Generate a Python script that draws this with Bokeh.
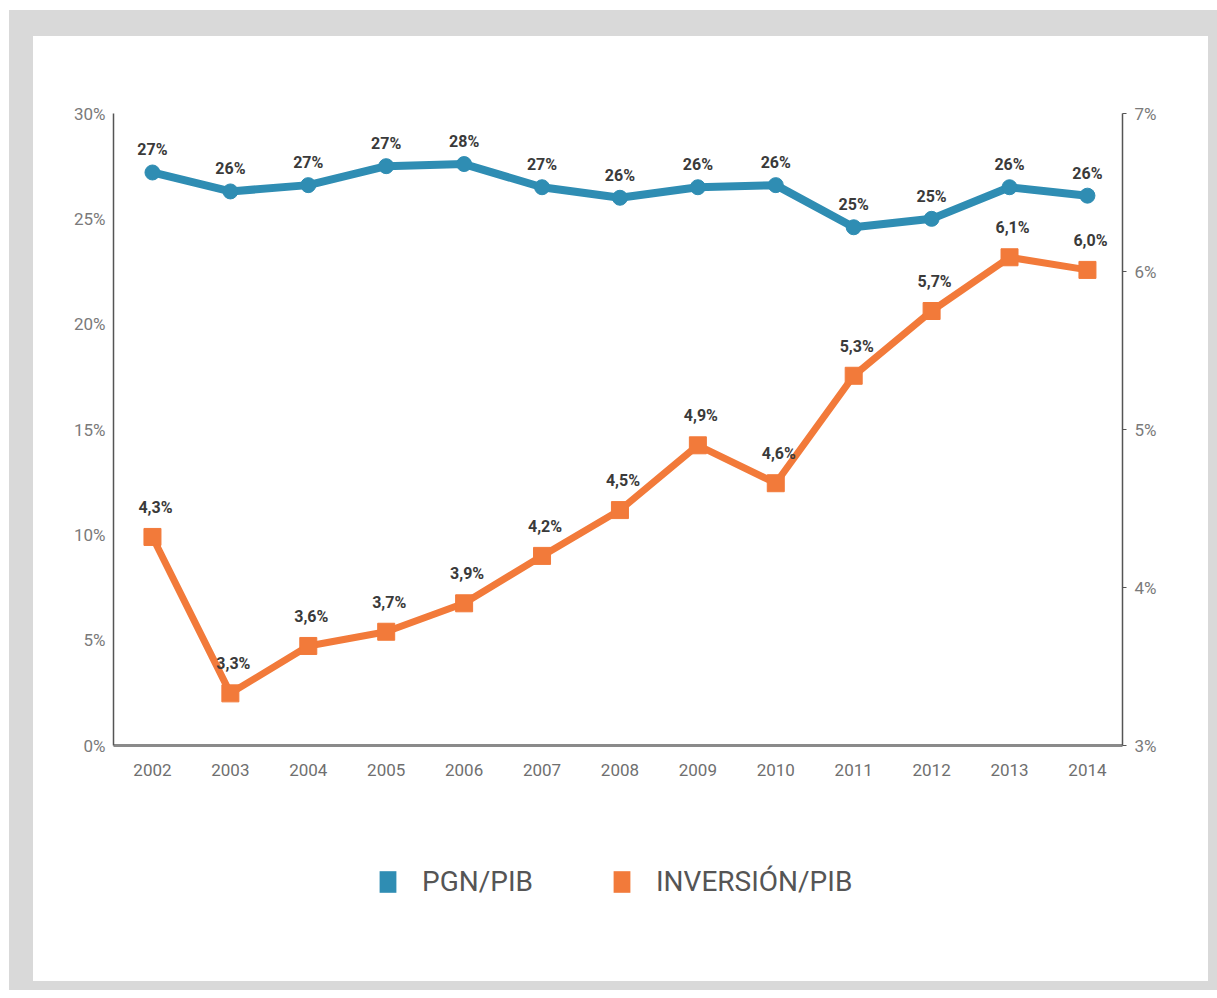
from bokeh.plotting import figure
from bokeh.models import (Range1d, LinearAxis, FixedTicker, CustomJSTickFormatter,
                          ColumnDataSource, Legend, LegendItem)
from bokeh.layouts import column
from bokeh.core.properties import value
from bokeh.embed import file_html
from bokeh.resources import INLINE

years = [2002, 2003, 2004, 2005, 2006, 2007, 2008, 2009, 2010, 2011, 2012, 2013, 2014]
pgn_pib = [27.2, 26.3, 26.6, 27.5, 27.6, 26.5, 26.0, 26.5, 26.6, 24.6, 25.0, 26.5, 26.1]
pgn_labels = ["27%", "26%", "27%", "27%", "28%", "27%", "26%", "26%", "26%", "25%", "25%", "26%", "26%"]
inv_pib = [4.32, 3.33, 3.63, 3.72, 3.9, 4.2, 4.49, 4.9, 4.66, 5.34, 5.75, 6.09, 6.01]
inv_labels = ["4,3%", "3,3%", "3,6%", "3,7%", "3,9%", "4,2%", "4,5%", "4,9%", "4,6%", "5,3%", "5,7%", "6,1%", "6,0%"]
left_ticks = [0, 5, 10, 15, 20, 25, 30]
right_ticks = [3, 4, 5, 6, 7]
series_names = ["PGN/PIB", "INVERSIÓN/PIB"]

BLUE = "#2f8db3"
ORANGE = "#f27a3a"
LABEL_FONT = "Roboto"

p = figure(width=1175, height=794, output_backend="svg", toolbar_location=None,
           x_range=Range1d(2001.5, 2014.45), y_range=Range1d(0, 30),
           min_border_left=80, min_border_right=86, min_border_top=77, min_border_bottom=85,
           background_fill_color="white", border_fill_color="white")
p.outline_line_color = None
p.xgrid.visible = False
p.ygrid.visible = False
p.extra_y_ranges = {"right": Range1d(3, 7)}

# axes styling
xa = p.xaxis[0]
xa.ticker = FixedTicker(ticks=years)
xa.axis_line_color = "#8a8a8a"
xa.axis_line_width = 3
xa.major_tick_line_color = None
xa.minor_tick_line_color = None
xa.major_label_text_font = LABEL_FONT
xa.major_label_text_font_size = "17px"
xa.major_label_text_color = "#6f6f6f"
xa.major_label_standoff = 12

ya = p.yaxis[0]
ya.ticker = FixedTicker(ticks=left_ticks)
ya.formatter = CustomJSTickFormatter(code="return tick + '%';")
ya.axis_line_color = "#555555"
ya.axis_line_width = 1.5
ya.major_tick_line_color = None
ya.minor_tick_line_color = None
ya.major_label_text_font = LABEL_FONT
ya.major_label_text_font_size = "17px"
ya.major_label_text_color = "#7a7a7a"
ya.major_label_standoff = 2

ra = LinearAxis(y_range_name="right", ticker=FixedTicker(ticks=right_ticks),
                formatter=CustomJSTickFormatter(code="return tick + '%';"))
ra.axis_line_color = "#555555"
ra.axis_line_width = 1.5
ra.major_tick_line_color = "#555555"
ra.major_tick_out = 4
ra.major_tick_in = 0
ra.minor_tick_line_color = None
ra.major_label_text_font = LABEL_FONT
ra.major_label_text_font_size = "17px"
ra.major_label_text_color = "#7a7a7a"
ra.major_label_standoff = 8
p.add_layout(ra, "right")

src_pgn = ColumnDataSource(dict(x=years, y=pgn_pib, t=pgn_labels))
src_inv = ColumnDataSource(dict(x=years, y=inv_pib, t=inv_labels))

p.line("x", "y", source=src_pgn, line_color=BLUE, line_width=8, line_join="round")
p.scatter("x", "y", source=src_pgn, marker="circle", size=15, fill_color=BLUE, line_color=BLUE)
p.text("x", "y", text="t", source=src_pgn, text_align="center", text_baseline="bottom",
       y_offset=-13, text_font=value(LABEL_FONT), text_font_style="bold",
       text_font_size="16px", text_color="#3a3a3a")

p.line("x", "y", source=src_inv, y_range_name="right", line_color=ORANGE, line_width=7)
p.scatter("x", "y", source=src_inv, y_range_name="right", marker="square", size=17,
          fill_color=ORANGE, line_color=ORANGE)
p.text("x", "y", text="t", source=src_inv, y_range_name="right", text_align="center",
       text_baseline="bottom", y_offset=-20, x_offset=3, text_font=value(LABEL_FONT),
       text_font_style="bold", text_font_size="16px", text_color="#3a3a3a")

# legend figure (below the chart)
lf = figure(width=1175, height=151, output_backend="svg", toolbar_location=None,
            x_range=Range1d(0, 1), y_range=Range1d(0, 1),
            min_border=0, background_fill_color="white", border_fill_color="white")
lf.axis.visible = False
lf.grid.visible = False
lf.outline_line_color = None
# proxy glyphs placed outside the visible range; only their legend swatches show
r1 = lf.rect(x=[-5], y=[-5], width=0.1, height=0.1, fill_color=BLUE, line_color=None)
r2 = lf.rect(x=[-5], y=[-5], width=0.1, height=0.1, fill_color=ORANGE, line_color=None)
legend = Legend(items=[LegendItem(label=series_names[0], renderers=[r1]),
                       LegendItem(label=series_names[1], renderers=[r2])],
                orientation="horizontal", location=(264, 83),
                glyph_width=21, glyph_height=27, label_standoff=24, spacing=78,
                label_text_font=LABEL_FONT, label_text_font_size="28px",
                label_text_color="#555555", border_line_color=None,
                background_fill_alpha=0, padding=0, margin=0)
lf.add_layout(legend, "center")

inner = column(p, lf, spacing=0, styles={"background-color": "white"})
layout = column(inner, margin=(10, 0, 0, 9),
                styles={"background-color": "#d9d9d9",
                        "padding": "26px 9px 9px 24px"})

open("out.html", "w").write(file_html(layout, INLINE))
